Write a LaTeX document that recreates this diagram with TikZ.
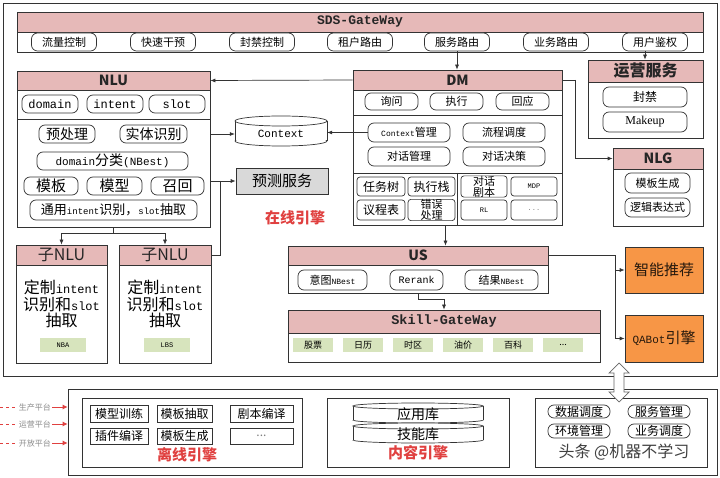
\documentclass[tikz,border=0pt]{standalone}
\usepackage{fontspec}
\setmainfont{Noto Sans CJK SC}
\newfontfamily\mono{Liberation Mono}
\newfontfamily\serifL{Liberation Serif}
\usetikzlibrary{arrows.meta,calc}
\definecolor{pinkT}{HTML}{E6B9B8}
\definecolor{greenL}{HTML}{D7E4BD}
\definecolor{grayP}{HTML}{D9D9D9}
\definecolor{orangeB}{HTML}{F79646}
\definecolor{redT}{HTML}{E0403F}
\definecolor{lineC}{HTML}{333333}
\newcommand\fs[2]{\fontsize{#1}{#2}\selectfont}
\newcommand\dotsTxt{...}
\newcommand\mybox[7][]{\node[inner sep=0pt,align=center,#1,minimum width={(#5)-(#3)},minimum height={(#6)-(#4)}] (#2) at ({((#3)+(#5))/2},{((#4)+(#6))/2}) {#7};}
\tikzset{
 lc/.style={draw=lineC,line width=0.7pt},
 frm/.style={lc,fill=white},
 ttl/.style={lc,fill=pinkT,text=black!85,font=\fs{14}{15}\bfseries},
 btn/.style={lc,rounded corners=6pt,fill=white,font=\fs{11}{12}},
 cell/.style={lc,rounded corners=3pt,fill=white,font=\fs{12}{12}},
 sqc/.style={lc,fill=white,font=\fs{12}{13}},
 tag/.style={fill=greenL,font=\fs{8}{9}},
 arr/.style={draw=lineC,line width=0.7pt,-{Latex[length=5pt,width=4pt]}},
 ln/.style={draw=lineC,line width=0.7pt},
 eng/.style={text=redT,font=\fs{15}{16}\bfseries},
}
\begin{document}
\begin{tikzpicture}[x=1pt,y=-1pt]
\useasboundingbox (0,0) rectangle (720,478);
\fill[white] (0,0) rectangle (720,478);
% online frame
\mybox[lc]{online}{3}{3}{717}{376}{}
% SDS gateway
\mybox[frm]{gw}{17}{12}{703}{52}{}
\mybox[ttl,font=\mono\fs{13}{14}\bfseries]{gwt}{17}{12}{703}{32}{SDS-GateWay}
\foreach \n/\c/\t in {1/64/流量控制,2/163/快速干预,3/262/封禁控制,4/360/租户路由,5/457/服务路由,6/556/业务路由,7/655/用户鉴权}{
 \mybox[btn]{gw\n}{\c-32.5}{33}{\c+32.5}{51}{\t}
}
% 运营服务
\mybox[frm]{yy}{588}{60}{703}{138}{}
\mybox[ttl,font=\fs{16}{17}\bfseries]{yyt}{588}{60}{703}{82}{运营服务}
\mybox[btn,font=\fs{12}{13}]{fj}{603}{87}{687}{107}{封禁}
\mybox[btn,font=\serifL\fs{12}{13}]{mk}{603}{112}{687}{132}{Makeup}
% NLG
\mybox[frm]{nlg}{613}{148}{703}{226}{}
\mybox[ttl]{nlgt}{613}{148}{703}{169}{NLG}
\mybox[btn]{mbsc}{625}{173}{690}{193}{模板生成}
\mybox[btn]{ljbd}{625}{198}{690}{217}{逻辑表达式}
% DM
\mybox[frm]{dm}{353}{70}{562}{225}{}
\mybox[ttl]{dmt}{353}{70}{562}{90}{DM}
\mybox[btn]{xw}{365}{93}{418}{110}{询问}
\mybox[btn]{zx}{430}{93}{483}{110}{执行}
\mybox[btn]{hy}{496}{93}{549}{110}{回应}
\draw[ln] (353,115) -- (562,115);
\mybox[btn]{cm}{368}{123}{450}{142}{{\mono\fs{8}{9}Context}管理}
\mybox[btn]{lcdd}{463}{123}{545}{142}{流程调度}
\mybox[btn]{dhgl}{368}{147}{450}{166}{对话管理}
\mybox[btn]{dhjc}{463}{147}{545}{166}{对话决策}
\draw[ln] (353,173) -- (562,173);
\draw[ln] (457,173) -- (457,225);
\mybox[cell]{rws}{357}{177}{405}{196}{任务树}
\mybox[cell]{zxz}{408}{177}{455}{196}{执行栈}
\mybox[cell]{ycb}{357}{200}{405}{220}{议程表}
\mybox[cell,font=\fs{11}{10}]{cwcl}{408}{200}{455}{220}{错误\\处理}
\mybox[cell,font=\fs{11}{10}]{dhjb}{461}{177}{507}{196}{对话\\剧本}
\mybox[cell,font=\mono\fs{7}{8}]{mdp}{511}{177}{557}{196}{MDP}
\mybox[cell,font=\mono\fs{7}{8}]{rl}{461}{200}{507}{220}{RL}
\mybox[cell,font=\mono\fs{7}{8},text=black!50]{dots1}{511}{200}{557}{220}{\dotsTxt}
% Context cylinder
\fill[white] (235,121) rectangle (327,141);
\fill[white] (281,141) ellipse[x radius=46,y radius=5];
\draw[ln] (235,121) -- (235,141);
\draw[ln] (327,121) -- (327,141);
\begin{scope}
\clip (228,141) rectangle (334,150);
\draw[ln] (281,141) ellipse[x radius=46,y radius=5];
\end{scope}
\draw[ln,fill=white] (281,121) ellipse[x radius=46,y radius=5];
\mybox[font=\mono\fs{11}{12}]{ctx}{235}{124}{327}{144}{Context}
% NLU
\mybox[frm]{nlu}{17}{71}{210}{227}{}
\mybox[ttl]{nlut}{17}{71}{210}{90}{NLU}
\mybox[btn,font=\mono\fs{12}{13}]{dom}{22}{95}{78}{113}{domain}
\mybox[btn,font=\mono\fs{12}{13}]{int}{87}{95}{143}{113}{intent}
\mybox[btn,font=\mono\fs{12}{13}]{slt}{149}{95}{205}{113}{slot}
\draw[ln] (17,119) -- (210,119);
\mybox[btn,font=\fs{14}{15}]{ycl}{39}{125}{95}{143}{预处理}
\mybox[btn,font=\fs{14}{15}]{stsb}{120}{125}{187}{143}{实体识别}
\mybox[btn,font=\fs{14}{15}]{dfl}{37}{152}{188}{170}{{\mono\fs{11}{12}domain}分类{\mono\fs{11}{12}(NBest)}}
\mybox[btn,font=\fs{15}{16}]{mb}{24}{177}{78}{195}{模板}
\mybox[btn,font=\fs{15}{16}]{mx}{87}{177}{142}{195}{模型}
\mybox[btn,font=\fs{15}{16}]{zh}{151}{177}{204}{195}{召回}
\mybox[btn,font=\fs{13}{14}]{ty}{30}{200}{197}{220}{通用{\mono\fs{9}{10}intent}识别，{\mono\fs{9}{10}slot}抽取}
% 预测服务
\mybox[lc,fill=grayP,font=\fs{15}{16}]{yc}{236}{168}{328}{194}{预测服务}
\node[eng] (zxyq) at (295,218) {在线引擎};
% sub NLU
\mybox[frm]{sub1}{16}{245}{107}{363}{}
\mybox[ttl,font=\fs{16}{17}]{sub1t}{16}{245}{107}{265}{子NLU}
\node[align=center,font=\fs{16}{16.5}] (sub1x) at (61.5,304) {定制{\mono\fs{12}{13}intent}\\识别和{\mono\fs{12}{13}slot}\\抽取};
\mybox[tag,font=\mono\fs{7}{8}]{nba}{40}{338}{86}{352}{NBA}
\mybox[frm]{sub2}{119}{245}{211}{363}{}
\mybox[ttl,font=\fs{16}{17}]{sub2t}{119}{245}{211}{265}{子NLU}
\node[align=center,font=\fs{16}{16.5}] (sub2x) at (165,304) {定制{\mono\fs{12}{13}intent}\\识别和{\mono\fs{12}{13}slot}\\抽取};
\mybox[tag,font=\mono\fs{7}{8}]{lbs}{144}{338}{190}{352}{LBS}
% US
\mybox[frm]{us}{288}{246}{548}{293}{}
\mybox[ttl]{ust}{288}{246}{548}{265}{US}
\mybox[btn]{ytnb}{298}{270}{367}{290}{意图{\mono\fs{8}{9}NBest}}
\mybox[btn,font=\mono\fs{10}{11}]{rr}{390}{270}{443}{290}{Rerank}
\mybox[btn]{jgnb}{465}{270}{538}{290}{结果{\mono\fs{8}{9}NBest}}
% Skill gateway
\mybox[frm]{sk}{288}{310}{600}{362}{}
\mybox[ttl,font=\mono\fs{13.5}{14}\bfseries]{skt}{288}{310}{600}{333}{Skill-GateWay}
\foreach \n/\c/\t in {1/293/股票,2/343/日历,3/393/时区,4/443/油价,5/493/百科,6/543/\dotsTxt}{
 \mybox[tag,font=\fs{9}{10}]{sk\n}{\c}{338}{\c+40}{352}{\t}
}
% orange
\mybox[lc,fill=orangeB,text=black!80!brown,font=\fs{15}{16}]{zn}{625}{247}{703}{293}{智能推荐}
\mybox[lc,fill=orangeB,text=black!80!brown,font=\fs{15}{16}]{qa}{625}{315}{703}{362}{{\mono\fs{11}{12}QABot}引擎}
% connectors
\draw[arr] (dmt.west) -- (nlut.east);
\draw[arr] (nlu.east |- ctx.west) -- (ctx.west);
\draw[arr] (cm.west) -- (cm.west -| ctx.east);
\draw[arr] (nlu.east |- yc.west) -- (yc.west);
\coordinate (j1) at (220,181);
\draw[ln] (j1) |- (sub2t.east);
\draw[arr] (nlu.south) -- ++(0,6) -| (sub1t.north);
\draw[arr] (nlu.south) -- ++(0,6) -| (sub2t.north);
\draw[arr] (gw5.south) -- (gw5.south |- dmt.north);
\draw[arr] ([xshift=-10pt]gw7.south) -- ([xshift=-10pt]gw7.south |- yyt.north);
\coordinate (j3) at (575,80);
\draw[ln] (dmt.east) -- (j3);
\draw[arr] (j3) |- (nlgt.west);
\draw[arr] ([xshift=-12pt]dm.south) -- ([xshift=-12pt]dm.south |- ust.north);
\draw[arr] (us.south) -- ++(0,6) -| (sk.north);
\coordinate (j2) at (615,255.5);
\draw[ln] (ust.east) -- (j2);
\draw[arr] (j2) |- (zn.west);
\draw[arr] (j2) |- (qa.west);
% bottom
\mybox[frm]{bf}{68}{389}{717}{475}{}
\mybox[frm]{lx}{82}{398}{302}{467}{}
\mybox[sqc]{c11}{90}{405}{148}{422}{模型训练}
\mybox[sqc]{c12}{157}{405}{212}{422}{模板抽取}
\mybox[sqc]{c13}{230}{405}{293}{422}{剧本编译}
\mybox[sqc]{c21}{90}{428}{148}{444}{插件编译}
\mybox[sqc]{c22}{157}{428}{212}{444}{模板生成}
\mybox[sqc,text=black!50]{c23}{230}{428}{293}{444}{\dotsTxt}
\node[eng] (lxyq) at (187,455) {离线引擎};
\mybox[frm]{nr}{327}{398}{509}{467}{}
\foreach \yt/\yb/\t/\nm in {406/420/应用库/yyk,426/440/技能库/jnk}{
 \fill[white] (353,\yt) rectangle (483,\yb);
 \draw[ln] (353,\yt) -- (353,\yb);
 \draw[ln] (483,\yt) -- (483,\yb);
 \begin{scope}\clip (348,\yb) rectangle (488,\yb+5);
 \draw[ln] (418,\yb) ellipse[x radius=65,y radius=3];\end{scope}
 \draw[ln,fill=white] (418,\yt) ellipse[x radius=65,y radius=3];
 \node[font=\fs{14}{15}] (\nm) at (418,{(\yt+\yb)/2+1}) {\t};
}
\node[eng] (nryq) at (418,453) {内容引擎};
\mybox[frm]{rb}{535}{398}{707}{467}{}
\mybox[btn,font=\fs{12}{13}]{sjdd}{548}{405}{610}{418}{数据调度}
\mybox[btn,font=\fs{12}{13}]{fwgl}{628}{405}{690}{418}{服务管理}
\mybox[btn,font=\fs{12}{13}]{hjgl}{548}{424}{610}{438}{环境管理}
\mybox[btn,font=\fs{12}{13}]{ywdd}{628}{424}{690}{438}{业务调度}
\node[text=black!75,font=\fs{16}{17},anchor=west] (wm) at (555,452) {头条 @机器不学习};
% double arrow
\draw[ln,draw=black!60,fill=white] (619,363) -- (629,373) -- (624,373) -- (624,392) -- (629,392) -- (619,402) -- (609,392) -- (614,392) -- (614,373) -- (609,373) -- cycle;
% left labels
\foreach \yy/\t/\nm in {407/生产平台/p1,424/运营平台/p2,443/开放平台/p3}{
 \node[text=black!45,font=\fs{8}{9},inner sep=1pt] (\nm) at (35,\yy) {\t};
 \draw[redT,dashed,line width=0.8pt] (0,\yy) -- (\nm.west);
 \draw[redT,line width=0.8pt,-{Latex[length=5pt,width=5pt]}] (\nm.east) -- (\nm.east -| bf.west);
}
\end{tikzpicture}
\end{document}
